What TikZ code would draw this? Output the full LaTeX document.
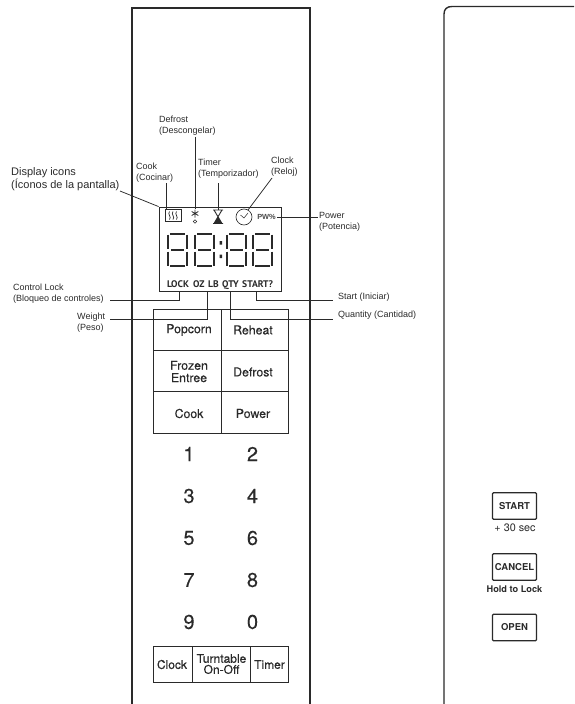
\documentclass[tikz,border=0pt]{standalone}
\usepackage{fontspec}
\setmainfont{Liberation Sans}
\newfontfamily\keyfont{TeX Gyre Heros}
\newfontfamily\medfont[FakeBold=0.25]{TeX Gyre Heros}
\newfontfamily\statfont{PT Sans}
\definecolor{ink}{HTML}{2a2a2a}
\tikzset{
 x=1pt,y=-1pt,
 panel/.style={line width=1.4pt,ink},
 lead/.style={line width=.75pt,ink},
 thinbox/.style={draw=ink,line width=.85pt,inner sep=0pt},
 lab/.style={font=\fontsize{9}{11}\selectfont,align=left,anchor=west,inner sep=0pt,text=ink},
 key/.style={font=\medfont\fontsize{12.3}{12.3}\selectfont,align=center,inner sep=0pt,text=ink},
 smallkey/.style={font=\medfont\fontsize{12}{11}\selectfont,align=center,inner sep=0pt,text=ink},
 num/.style={font=\medfont\fontsize{20}{20}\selectfont,inner sep=0pt,text=ink},
 stat/.style={font=\statfont\bfseries\fontsize{9.6}{10}\selectfont,anchor=base west,inner sep=0pt,text=ink},
 hw/.style={draw=ink,line width=1.2pt,rounded corners=1pt,minimum width=44pt,minimum height=26.5pt,inner sep=0pt,font=\keyfont\bfseries\fontsize{9.5}{10}\selectfont,text=ink},
 seg/.style={line width=2.4pt,ink}
}
\newcommand{\sevenseg}[1]{%
 \begin{scope}[shift={(#1,0)}]
 \draw[seg] (3,234)--(18,234) (4,250)--(17,250) (3,266)--(18,266);
 \draw[seg] (1,234.5)--(1,248.5) (20,234.5)--(20,248.5) (1,251.5)--(1,265.5) (20,251.5)--(20,265.5);
 \end{scope}}
\begin{document}
\begin{tikzpicture}
\useasboundingbox (0,0) rectangle (574,704);
% housings
\draw[panel] (132,704)--(132,8)--(310,8)--(310,704);
\draw[panel] (444,704)--(444,14) .. controls (444,9) and (447,6.5) .. (452,6.5)--(574,6.5);
% display
\node[thinbox,minimum width=122pt,minimum height=84pt] (disp) at (220,249) {};
\node[thinbox,minimum width=16pt,minimum height=12pt] (cookicon) at (173,215.5) {};
\draw[line width=.7pt,ink] (169.5,211.5)..controls (167,214) and (172,217)..(169.5,219.5)
 (173,211.5)..controls (170.5,214) and (175.5,217)..(173,219.5)
 (176.5,211.5)..controls (174,214) and (179,217)..(176.5,219.5);
\coordinate (defrostc) at (195,209);
\draw[line width=.8pt,ink] (195,209.5)--(195,217.5) (191.7,211.5)--(198.3,215.5) (191.7,215.5)--(198.3,211.5);
\draw[line width=.6pt,ink] (195,221.5) circle[radius=1.7];
\coordinate (timerc) at (218,209.5);
\draw[line width=.9pt,ink] (213,210)--(223,210) (213,223.5)--(223,223.5) (214,210)--(222,223.5) (222,210)--(214,223.5);
\fill[ink] (218,216.8)--(222.2,223.5)--(213.8,223.5)--cycle;
\node[circle,draw=ink,line width=.65pt,minimum size=16pt,inner sep=0pt] (clockicon) at (244,217) {};
\draw[line width=.5pt,ink] (240.5,215)--(244,218)--(248,213);
\node[font=\bfseries\fontsize{7.4}{8}\selectfont,inner sep=0pt,text=ink!85] (pw) at (266.5,216.5) {PW\%};
\sevenseg{167}\sevenseg{194}\sevenseg{226}\sevenseg{252}
\fill[ink] (219.5,241) rectangle (222,244.5) (219.5,254.5) rectangle (222,258);
\node[stat] (lock) at (167,287) {LOCK};
\node[stat] (oz) at (193,287) {OZ};
\node[stat] (lb) at (208,287) {LB};
\node[stat] (qty) at (222,287) {QTY};
\node[stat] (startq) at (242,287) {START?};
% keypad
\node[thinbox,minimum width=135pt,minimum height=124pt] (pad) at (220.5,371) {};
\draw[line width=.85pt,ink] (221,309)--(221,433) (153,350)--(288,350) (153,391)--(288,391);
\node[key] (k1) at (189,330) {Popcorn};
\node[key] (k2) at (253,330) {Reheat};
\node[key] (k3) at (189,371.5) {Frozen\\Entree};
\node[key] (k4) at (253,372) {Defrost};
\node[key] (k5) at (189,413.5) {Cook};
\node[key] (k6) at (253,413.5) {Power};
\foreach \n/\l/\xx/\yy in {a/1/189/454,b/2/252.5/454,c/3/189/496,d/4/252.5/496,e/5/189/538,f/6/252.5/538,g/7/189/580,h/8/252.5/580,i/9/189/622,j/0/252.5/622}
  \node[num] (n\n) at (\xx,\yy) {\l};
\node[thinbox,minimum width=135pt,minimum height=36pt] (bar) at (220.5,664) {};
\draw[line width=.85pt,ink] (192,646)--(192,682) (250,646)--(250,682);
\node[smallkey] (kclock) at (172,664.5) {Clock};
\node[smallkey] (kturn) at (221.5,664) {Turntable\\On-Off};
\node[smallkey] (ktimer) at (269.5,664.5) {Timer};
% right buttons
\node[hw] (bstart) at (514.5,506) {START};
\node[font=\keyfont\fontsize{10.8}{11}\selectfont,inner sep=0pt,text=ink] (t30) at (515,528) {+ 30 sec};
\node[hw] (bcancel) at (514.5,567) {CANCEL};
\node[font=\keyfont\bfseries\fontsize{9.2}{10}\selectfont,inner sep=0pt,text=ink] (thold) at (514.5,589) {Hold to Lock};
\node[hw] (bopen) at (514.5,627.5) {OPEN};
% labels
\node[lab,font=\fontsize{11}{13}\selectfont] (ldisp) at (11,179) {Display icons\\(Íconos de la pantalla)};
\node[lab] (lcook) at (136,173) {Cook\\(Cocinar)};
\node[lab] (ldef) at (159,125.5) {Defrost\\(Descongelar)};
\node[lab] (ltim) at (198,168.5) {Timer\\(Temporizador)};
\node[lab] (lclk) at (271,166.5) {Clock\\(Reloj)};
\node[lab] (lpow) at (319,221.5) {Power\\(Potencia)};
\node[lab] (lctl) at (13,293.5) {Control  Lock\\(Bloqueo de controles)};
\node[lab] (lwei) at (77,322.5) {Weight\\(Peso)};
\node[lab] (lsta) at (338,297) {Start (Iniciar)};
\node[lab] (lqty) at (338,315) {Quantity (Cantidad)};
% leaders
\coordinate (dispfrom) at (120,191);
\draw[lead] (dispfrom)--(disp.north west);
\draw[lead] (166,183)--(166,209.5);
\draw[lead] (195,137)--(defrostc);
\draw[lead] (218,183)--(timerc);
\draw[lead] (272,178)--(clockicon.60);
\draw[lead] (pw.east)++(1.5,0.5)--(318,217);
\draw[lead] (110,300)--(179,300)--(179,291);
\draw[lead] (110,319)--(207,319)--(207,291);
\draw[lead] (230,291)--(230,319)--(333,319);
\draw[lead] (256,291)--(256,300)--(333,300);
\end{tikzpicture}
\end{document}
